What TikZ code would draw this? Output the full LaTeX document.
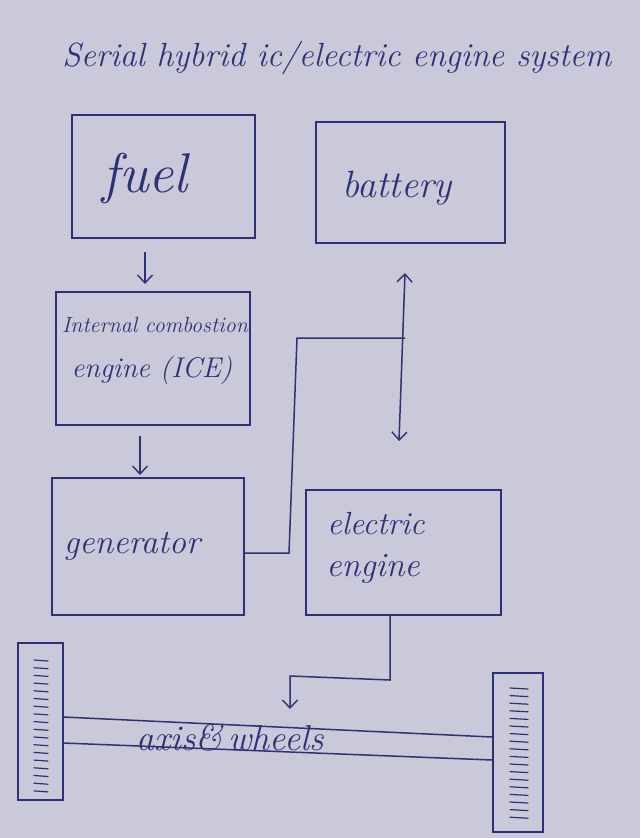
\documentclass[tikz,border=0pt]{standalone}
\usetikzlibrary{arrows.meta,calc}
\definecolor{paper}{HTML}{C9C9D9}
\definecolor{ink}{HTML}{2B3276}
\begin{document}
\begin{tikzpicture}[x=1pt,y=-1pt,
  box/.style={draw=ink,line width=1.4pt,minimum width=#1,inner sep=0pt},
  lbl/.style={text=ink,font=\itshape,inner sep=0pt},
  wire/.style={draw=ink,line width=1.5pt},
  tip/.style={-{Straight Barb[length=8pt,width=15pt,line width=1.4pt]}},
  dtip/.style={{Straight Barb[length=8pt,width=15pt,line width=1.4pt]}-{Straight Barb[length=8pt,width=15pt,line width=1.4pt]}},
  hatch/.style={draw=ink,line width=1.2pt,line cap=round}]
\fill[paper] (0,0) rectangle (640,838);
\useasboundingbox (0,0) rectangle (640,838);
% title
\node[lbl,font=\itshape\fontsize{33.5}{36}\selectfont] (title) at (337,58) {Serial hybrid ic/electric engine system};
% boxes
\node[box=183pt,minimum height=123pt] (fuel) at (163.5,176.5) {};
\node[box=189pt,minimum height=121pt] (bat) at (410.5,182.5) {};
\node[box=194pt,minimum height=133pt] (ice) at (153,358.5) {};
\node[box=192pt,minimum height=137pt] (gen) at (148,546.5) {};
\node[box=195pt,minimum height=125pt] (ele) at (403.5,552.5) {};
% labels
\node[lbl,font=\itshape\fontsize{56}{60}\selectfont] (tfuel) at (145,178) {fuel};
\node[lbl,font=\itshape\fontsize{38}{42}\selectfont] (tbat) at (397,188) {battery};
\node[lbl,font=\itshape\fontsize{22}{26}\selectfont] (tice1) at (155,325) {Internal combostion};
\node[lbl,font=\itshape\fontsize{28.5}{32}\selectfont] (tice2) at (152,370) {engine (ICE)};
\node[lbl,font=\itshape\fontsize{34}{38}\selectfont] (tgen) at (132,546) {generator};
\node[lbl,font=\itshape\fontsize{32}{36}\selectfont] (tele1) at (376,524) {electric};
\node[lbl,font=\itshape\fontsize{34}{38}\selectfont] (tele2) at (373,569) {engine};
% arrows between left boxes
\coordinate (a1s) at (145,252); \coordinate (a1e) at (145,284);
\draw[wire,tip] (a1s) -- (a1e);
\coordinate (a2s) at (140,436); \coordinate (a2e) at (140,475);
\draw[wire,tip] (a2s) -- (a2e);
% generator to battery/electric engine bus
\coordinate (g1) at (289,553);
\coordinate (g2) at (297,338);
\coordinate (j) at (405,338);
\coordinate (bt) at (405,273);
\coordinate (eb) at (399,441);
\draw[wire] (gen.east |- g1) -- (g1) -- (g2) -- (j);
\draw[wire,dtip] (bt) -- (eb);
% electric engine to axle
\coordinate (e1) at (390,680);
\coordinate (e2) at (290,676);
\coordinate (e3) at (290,709);
\draw[wire,tip] (ele.south -| e1) -- (e1) -- (e2) -- (e3);
% wheels
\node[box=45pt,minimum height=157pt] (lw) at (40.5,721.5) {};
\node[box=50pt,minimum height=159pt] (rw) at (518,752.5) {};
\foreach \k in {0,...,17}{
  \draw[hatch] (34,{660+\k*7.7}) -- (48,{661+\k*7.7});
  \draw[hatch] (510,{688+\k*7.6}) -- (528,{689+\k*7.6});
}
% axle
\coordinate (ax1) at (63,717); \coordinate (ax2) at (492,737);
\coordinate (ax3) at (63,743); \coordinate (ax4) at (492,760);
\draw[wire] (ax1) -- (ax2);
\draw[wire] (ax3) -- (ax4);
\node[lbl,font=\itshape\fontsize{36}{40}\selectfont] (tax) at (230,738) {axis\&\,wheels};
\end{tikzpicture}
\end{document}
